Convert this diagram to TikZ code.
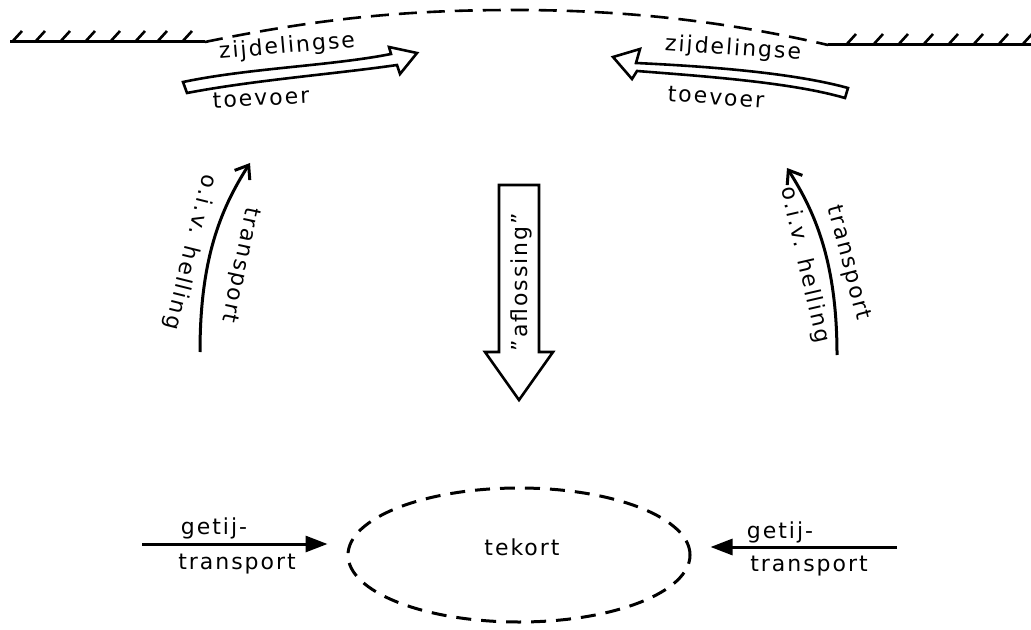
\documentclass[tikz,border=0pt]{standalone}
\usepackage{fontspec}
\setmainfont[LetterSpace=9]{DejaVu Sans}
\usetikzlibrary{arrows.meta,shapes.geometric}
\begin{document}
\begin{tikzpicture}[x=0.5pt,y=-0.5pt,
  lbl/.style={font=\fontsize{11}{13}\selectfont, inner sep=0pt},
  ground/.style={line width=1.5pt},
  hatch/.style={line width=1.3pt},
  shore/.style={line width=1.3pt, dash pattern=on 9pt off 5pt},
  hollow/.style={line width=1.3pt, line join=miter},
  slope/.style={line width=1.5pt, -{Straight Barb[length=6pt,width=9pt,line width=1.5pt]}},
  tide/.style={line width=1.5pt, -{Triangle[length=11pt,width=8pt]}, shorten >=9.5pt},
  deficit/.style={draw, ellipse, line width=1.5pt, dash pattern=on 7.5pt off 5pt,
    minimum width=171pt, minimum height=67pt, inner sep=0pt}
]
\useasboundingbox (0,0) rectangle (1031,630);

% banks with hatching
\draw[ground] (10,42) -- (205,42);
\foreach \x in {12,35,60,85,110,135,157,182}
  \draw[hatch] (\x,42) -- ++(10,-11);
\draw[ground] (828,45) -- (1031,45);
\foreach \x in {846,873,898,923,948,973,998,1022}
  \draw[hatch] (\x,45) -- ++(10,-11);

% open boundary between the banks
\draw[shore] (205,42) .. controls (330,16) and (420,10) .. (515,10)
  .. controls (620,10) and (720,20) .. (828,45);

% lateral supply, left
\draw[hollow] (187,93) -- (183,82) .. controls (250,68) and (330,66) .. (391,54)
  -- (389,47) -- (417,53) -- (400,74) -- (397,65)
  .. controls (335,74) and (255,80) .. (187,93) -- cycle;
\node[lbl, rotate=5] (zl) at (287,47) {zijdelingse};
\node[lbl, rotate=3] (tl) at (261,98) {toevoer};

% lateral supply, right
\draw[hollow] (613,57) -- (640,49) -- (636,63)
  .. controls (700,66) and (790,72) .. (848,88) -- (845,98)
  .. controls (790,82) and (700,76) .. (637,71) -- (632,79) -- cycle;
\node[lbl, rotate=-4] (zr) at (733,49) {zijdelingse};
\node[lbl, rotate=-4] (tr) at (716,97) {toevoer};

% transport along the slopes
\coordinate (sl0) at (200,352);
\coordinate (sl1) at (250,163);
\draw[slope] (sl0) .. controls (200,260) and (220,210) .. (sl1);
\node[lbl, rotate=-102] (sltr) at (240,265) {transport};
\node[lbl, rotate=-104] (slhe) at (190,252) {o.i.v. helling};

\coordinate (sr0) at (837,355);
\coordinate (sr1) at (787,168);
\draw[slope] (sr0) .. controls (837,262) and (815,212) .. (sr1);
\node[lbl, rotate=-75] (srtr) at (848,263) {transport};
\node[lbl, rotate=-77] (srhe) at (805,265) {o.i.v. helling};

% relief arrow
\draw[hollow] (499,185) -- (539,185) -- (539,352) -- (553,352) -- (519,400)
  -- (485,352) -- (499,352) -- cycle;
\node[lbl, rotate=90] (afl) at (521,282) {''aflossing''};

% deficit area
\node[deficit] (tekort) at (519,555) {};
\node[lbl] (tekortlbl) at (522,547) {tekort};

% tidal transport
\coordinate (gl) at (142,544);
\draw[tide] (gl) -- (gl -| tekort.west);
\node[lbl] (glg) at (214,528) {getij-};
\node[lbl] (glt) at (237,564) {transport};

\coordinate (gr) at (897,547);
\draw[tide] (gr) -- (gr -| tekort.east);
\node[lbl] (grg) at (780,532) {getij-};
\node[lbl] (grt) at (809,566) {transport};
\end{tikzpicture}
\end{document}
